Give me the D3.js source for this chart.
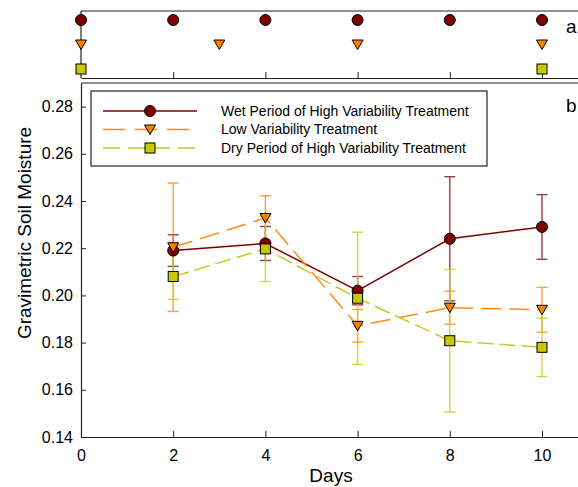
<!DOCTYPE html>
<html>
<head>
<meta charset="utf-8">
<script src="https://cdn.jsdelivr.net/npm/d3@7"></script>
<style>
body { margin: 0; background: #fff; }
text { font-family: "Liberation Sans", Arial, sans-serif; }
</style>
</head>
<body>
<script>
var w = 578;
var h = 487;

// panel b data
var days = [2, 4, 6, 8, 10];
var wetMean = [0.219, 0.222, 0.202, 0.224, 0.229];
var wetErr = [0.0067, 0.0072, 0.006, 0.0263, 0.0137];
var lowMean = [0.2204, 0.2328, 0.1871, 0.1948, 0.1939];
var lowErr = [0.0272, 0.0094, 0.0069, 0.007, 0.0095];
var dryMean = [0.208, 0.2197, 0.1988, 0.1808, 0.178];
var dryErr = [0.0097, 0.0138, 0.028, 0.0302, 0.0124];

// panel a: watering days
var wetDays = [0, 2, 4, 6, 8, 10];
var lowDays = [0, 3, 6, 10];
var dryDays = [0, 10];

var names = ["Wet Period of High Variability Treatment", "Low Variability Treatment", "Dry Period of High Variability Treatment"];
var xTicks = [0, 2, 4, 6, 8, 10];
var yTicks = [0.14, 0.16, 0.18, 0.20, 0.22, 0.24, 0.26, 0.28];

var series = [
    {name: names[0], mean: wetMean, err: wetErr, top: wetDays, shape: "circle", fill: "#800000", line: "#800000", bar: "#8b1c1c", dash: null, legDash: null},
    {name: names[1], mean: lowMean, err: lowErr, top: lowDays, shape: "tri", fill: "#ff8000", line: "#ff8c1a", bar: "#ff8c1a", dash: "20,8", legDash: "22,10"},
    {name: names[2], mean: dryMean, err: dryErr, top: dryDays, shape: "square", fill: "#c8c800", line: "#c8c81e", bar: "#cccc22", dash: "16,6", legDash: "17,8"}
];

var svg = d3.select("body")
    .append("svg")
    .attr("width", w)
    .attr("height", h);

var x = d3.scaleLinear().domain([0, 11]).range([81, 81 + 11 * 46.1]);
var y = d3.scaleLinear().domain([0.14, 0.29]).range([437, 83]);
var yTop = d3.scalePoint().domain(names).range([20, 69]);

function marker(g, s) {
    if (s.shape == "circle") {
        g.append("circle").attr("r", 5.5);
    } else if (s.shape == "tri") {
        g.append("path").attr("d", "M-5.5,-4.5L5.5,-4.5L0,5Z");
    } else {
        g.append("rect").attr("x", -5).attr("y", -5).attr("width", 10).attr("height", 10);
    }
    g.selectAll("*")
        .attr("fill", s.fill)
        .attr("stroke", "#000")
        .attr("stroke-width", 1);
}

// ---- panel a ----
svg.append("line")
    .attr("x1", 81).attr("x2", w)
    .attr("y1", 11).attr("y2", 11)
    .attr("stroke", "#222").attr("stroke-width", 1.2);
svg.append("line")
    .attr("x1", 81).attr("x2", 81)
    .attr("y1", 11).attr("y2", 78)
    .attr("stroke", "#222").attr("stroke-width", 1.2);

var axA = svg.append("g")
    .attr("transform", "translate(0,78)")
    .call(d3.axisTop(x).tickValues([2, 4, 6, 8, 10]).tickSize(6).tickSizeOuter(0).tickFormat(""));
axA.select(".domain").attr("stroke", "#222").attr("stroke-width", 1.2);
axA.selectAll(".tick line").attr("stroke", "#222");

series.forEach(function (s) {
    svg.append("g")
        .selectAll("g")
        .data(s.top)
        .enter()
        .append("g")
        .attr("transform", function (d) {
            return "translate(" + x(d) + "," + yTop(s.name) + ")";
        })
        .each(function () {
            marker(d3.select(this), s);
        });
});

svg.append("text").attr("x", 566).attr("y", 33).attr("font-size", 19).text("a");

// ---- panel b ----
svg.append("line")
    .attr("x1", 81).attr("x2", w)
    .attr("y1", 83).attr("y2", 83)
    .attr("stroke", "#222").attr("stroke-width", 1.2);

var axX = svg.append("g")
    .attr("transform", "translate(0,437)")
    .call(d3.axisBottom(x).tickValues(xTicks).tickSizeInner(-6).tickSizeOuter(0).tickPadding(13));
axX.select(".domain").attr("stroke", "#222").attr("stroke-width", 1.2);
axX.selectAll(".tick line").attr("stroke", "#222");
axX.selectAll("text").attr("font-size", 16).attr("fill", "#000")
    .style("font-family", "Liberation Sans, Arial, sans-serif");

var axY = svg.append("g")
    .attr("transform", "translate(81,0)")
    .call(d3.axisLeft(y).tickValues(yTicks).tickSizeInner(-5).tickSizeOuter(0).tickPadding(8)
        .tickFormat(d3.format(".2f")));
axY.select(".domain").attr("stroke", "#222").attr("stroke-width", 1.2);
axY.selectAll(".tick line").attr("stroke", "#222");
axY.selectAll("text").attr("font-size", 16).attr("fill", "#000")
    .style("font-family", "Liberation Sans, Arial, sans-serif");

svg.append("text")
    .attr("x", 331).attr("y", 482)
    .attr("text-anchor", "middle")
    .attr("font-size", 19)
    .text("Days");

svg.append("text")
    .attr("transform", "translate(31,233) rotate(-90)")
    .attr("text-anchor", "middle")
    .attr("font-size", 19)
    .text("Gravimetric Soil Moisture");

svg.append("text").attr("x", 566).attr("y", 112).attr("font-size", 19).text("b");

// error bars
series.forEach(function (s) {
    var eb = svg.append("g")
        .selectAll("g")
        .data(days)
        .enter()
        .append("g")
        .attr("stroke", s.bar)
        .attr("stroke-width", 1.4)
        .attr("opacity", 0.85);
    eb.append("line")
        .attr("x1", function (d) { return x(d); })
        .attr("x2", function (d) { return x(d); })
        .attr("y1", function (d, i) { return y(s.mean[i] + s.err[i]); })
        .attr("y2", function (d, i) { return y(s.mean[i] - s.err[i]); });
    [1, -1].forEach(function (sign) {
        eb.append("line")
            .attr("x1", function (d) { return x(d) - 5.5; })
            .attr("x2", function (d) { return x(d) + 5.5; })
            .attr("y1", function (d, i) { return y(s.mean[i] + sign * s.err[i]); })
            .attr("y2", function (d, i) { return y(s.mean[i] + sign * s.err[i]); });
    });
});

// lines
series.forEach(function (s) {
    var line = d3.line()
        .x(function (d) { return x(d); })
        .y(function (d, i) { return y(s.mean[i]); });
    svg.append("path")
        .datum(days)
        .attr("d", line)
        .attr("fill", "none")
        .attr("stroke", s.line)
        .attr("stroke-width", 1.5)
        .attr("stroke-dasharray", s.dash);
});

// markers
series.forEach(function (s) {
    svg.append("g")
        .selectAll("g")
        .data(days)
        .enter()
        .append("g")
        .attr("transform", function (d, i) {
            return "translate(" + x(d) + "," + y(s.mean[i]) + ")";
        })
        .each(function () {
            marker(d3.select(this), s);
        });
});

// legend
svg.append("rect")
    .attr("x", 91).attr("y", 91)
    .attr("width", 396).attr("height", 75)
    .attr("fill", "#fff")
    .attr("stroke", "#222")
    .attr("stroke-width", 1.2);

var legRows = [111, 129.5, 148];
series.forEach(function (s, i) {
    var g = svg.append("g");
    g.append("line")
        .attr("x1", 103).attr("x2", 197)
        .attr("y1", legRows[i]).attr("y2", legRows[i])
        .attr("stroke", s.line)
        .attr("stroke-width", 1.5)
        .attr("stroke-dasharray", s.legDash);
    var m = g.append("g").attr("transform", "translate(150," + legRows[i] + ")");
    marker(m, s);
    g.append("text")
        .attr("x", 221).attr("y", legRows[i])
        .attr("dy", "0.35em")
        .attr("font-size", 14)
        .text(s.name);
});
</script>
</body>
</html>
